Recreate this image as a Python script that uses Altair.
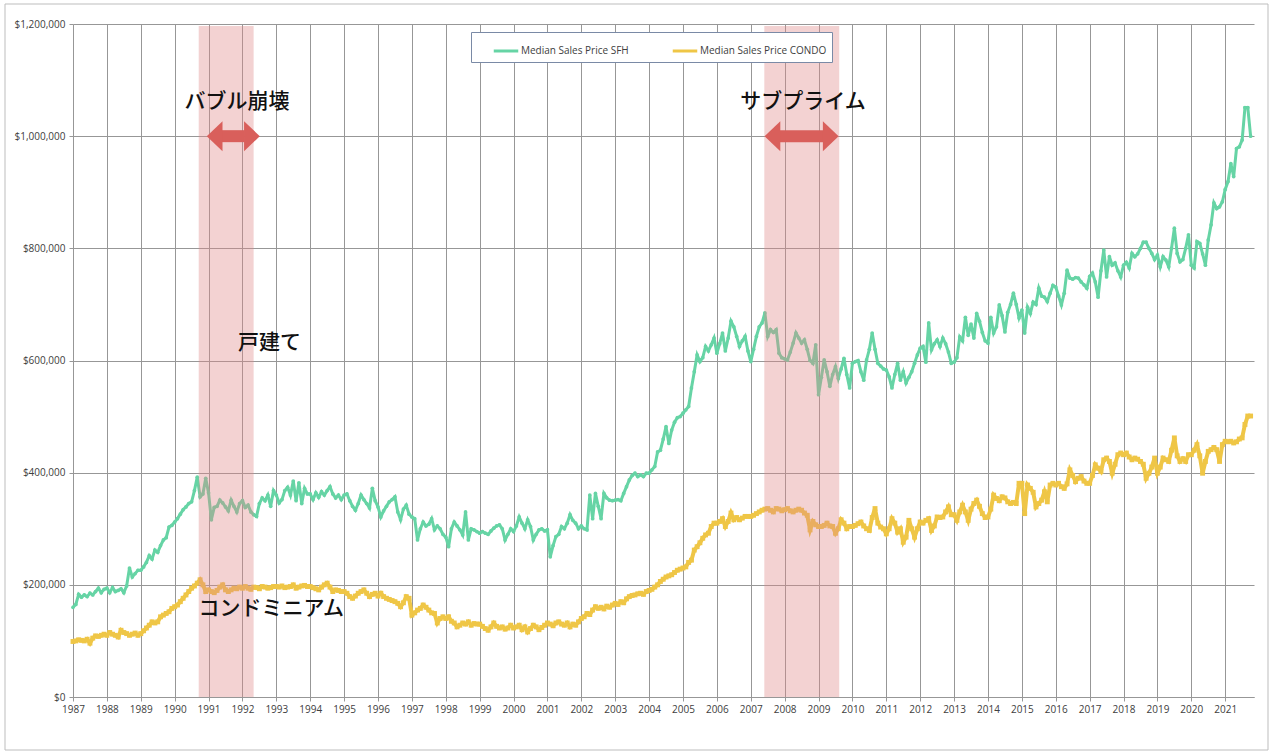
import altair as alt
import pandas as pd

# ---------------- data (thousands of USD, monthly) ----------------
series_names = ["Median Sales Price SFH", "Median Sales Price CONDO"]
series_colors = ["#66D4A5", "#EFC646"]

sfh = {
    1987: [160, 165, 183, 178, 182, 179, 185, 182, 188, 194, 186, 192],
    1988: [194, 186, 195, 188, 190, 193, 186, 198, 230, 214, 220, 226],
    1989: [226, 232, 240, 252, 246, 262, 258, 270, 280, 284, 303, 306],
    1990: [312, 318, 326, 334, 339, 345, 348, 368, 392, 357, 362, 390],
    1991: [364, 316, 338, 340, 351, 346, 339, 332, 351, 340, 330, 345],
    1992: [350, 338, 342, 330, 325, 322, 345, 355, 350, 360, 340, 368],
    1993: [360, 346, 352, 368, 374, 360, 385, 350, 382, 345, 372, 362],
    1994: [362, 352, 364, 356, 366, 360, 368, 375, 362, 355, 360, 352],
    1995: [360, 362, 350, 340, 333, 345, 360, 352, 345, 337, 372, 350],
    1996: [339, 321, 332, 340, 348, 352, 357, 330, 316, 335, 342, 326],
    1997: [321, 318, 280, 300, 312, 305, 308, 318, 298, 305, 300, 290],
    1998: [285, 268, 300, 312, 305, 298, 289, 330, 280, 300, 298, 295],
    1999: [292, 295, 292, 290, 296, 301, 305, 307, 300, 280, 290, 300],
    2000: [295, 305, 321, 310, 300, 316, 304, 280, 290, 298, 300, 296],
    2001: [298, 250, 270, 286, 290, 304, 300, 310, 325, 315, 310, 300],
    2002: [305, 300, 298, 360, 318, 363, 340, 318, 363, 355, 351, 350],
    2003: [351, 352, 350, 363, 375, 387, 395, 399, 393, 396, 393, 399],
    2004: [399, 405, 411, 437, 440, 460, 482, 452, 476, 490, 498, 500],
    2005: [506, 512, 518, 551, 580, 610, 598, 605, 625, 617, 628, 640],
    2006: [613, 630, 649, 617, 640, 670, 660, 643, 625, 635, 643, 617],
    2007: [598, 620, 643, 660, 667, 685, 643, 655, 650, 655, 613, 605],
    2008: [603, 601, 615, 631, 649, 640, 631, 637, 620, 600, 595, 628],
    2009: [539, 570, 601, 580, 554, 575, 589, 568, 585, 604, 575, 551],
    2010: [595, 598, 600, 580, 565, 601, 620, 649, 620, 595, 590, 585],
    2011: [583, 571, 551, 575, 595, 565, 580, 560, 570, 580, 595, 610],
    2012: [622, 625, 597, 667, 619, 630, 637, 625, 640, 630, 615, 595],
    2013: [597, 605, 642, 635, 677, 645, 665, 640, 684, 670, 650, 635],
    2014: [631, 677, 649, 660, 699, 680, 651, 686, 700, 720, 700, 676],
    2015: [690, 649, 695, 684, 704, 700, 729, 715, 713, 705, 720, 734],
    2016: [731, 715, 699, 720, 761, 747, 745, 748, 747, 740, 735, 729],
    2017: [750, 756, 740, 713, 760, 797, 749, 785, 770, 774, 760, 749],
    2018: [770, 775, 765, 791, 785, 790, 800, 811, 811, 800, 791, 780],
    2019: [788, 767, 785, 779, 767, 800, 836, 791, 776, 780, 800, 824],
    2020: [770, 765, 812, 809, 790, 770, 815, 842, 881, 871, 874, 883],
    2021: [905, 919, 951, 928, 978, 981, 993, 1051, 1051, 1000],
}

condo = {
    1987: [99, 100, 102, 101, 100, 103, 96, 105, 109, 108, 110, 112],
    1988: [110, 115, 112, 110, 107, 119, 115, 113, 110, 112, 114, 110],
    1989: [113, 118, 123, 128, 134, 132, 134, 143, 146, 149, 152, 158],
    1990: [161, 164, 170, 176, 182, 188, 194, 198, 203, 209, 200, 188],
    1991: [191, 188, 186, 190, 196, 200, 191, 188, 191, 194, 193, 196],
    1992: [194, 197, 194, 192, 196, 195, 193, 197, 196, 194, 195, 197],
    1993: [197, 196, 198, 195, 196, 197, 200, 194, 196, 198, 199, 197],
    1994: [197, 195, 193, 191, 196, 200, 203, 196, 188, 191, 190, 188],
    1995: [188, 185, 179, 176, 180, 185, 188, 191, 185, 179, 183, 185],
    1996: [180, 185, 179, 176, 174, 172, 170, 167, 161, 168, 179, 176],
    1997: [146, 150, 155, 158, 164, 160, 155, 150, 149, 132, 140, 143],
    1998: [140, 143, 135, 132, 125, 128, 132, 130, 134, 128, 131, 130],
    1999: [130, 126, 122, 119, 125, 132, 126, 123, 125, 121, 123, 128],
    2000: [123, 125, 128, 120, 125, 116, 122, 128, 125, 120, 124, 128],
    2001: [132, 130, 127, 132, 134, 130, 128, 132, 125, 130, 128, 134],
    2002: [140, 143, 149, 147, 155, 161, 158, 160, 157, 162, 160, 164],
    2003: [167, 165, 170, 168, 175, 179, 181, 182, 184, 185, 183, 188],
    2004: [190, 192, 196, 200, 206, 210, 214, 216, 218, 222, 226, 228],
    2005: [230, 232, 240, 244, 262, 268, 275, 283, 289, 292, 304, 310],
    2006: [310, 313, 318, 304, 313, 328, 316, 320, 316, 319, 322, 322],
    2007: [322, 324, 327, 330, 333, 335, 336, 333, 330, 336, 335, 332],
    2008: [334, 336, 332, 330, 333, 335, 333, 328, 324, 298, 313, 307],
    2009: [304, 304, 306, 310, 305, 304, 292, 300, 316, 310, 300, 304],
    2010: [304, 306, 309, 312, 305, 300, 297, 320, 336, 310, 303, 300],
    2011: [291, 300, 318, 310, 294, 300, 276, 285, 315, 300, 285, 300],
    2012: [312, 310, 315, 318, 297, 305, 321, 320, 321, 330, 339, 325],
    2013: [325, 315, 330, 342, 330, 315, 335, 345, 351, 340, 327, 320],
    2014: [321, 335, 360, 354, 350, 357, 355, 348, 345, 347, 345, 381],
    2015: [381, 327, 378, 372, 365, 339, 345, 351, 366, 348, 378, 381],
    2016: [378, 381, 375, 372, 380, 405, 395, 384, 390, 393, 385, 381],
    2017: [381, 395, 414, 408, 402, 423, 426, 420, 399, 415, 432, 435],
    2018: [432, 435, 428, 423, 426, 424, 420, 415, 390, 399, 410, 426],
    2019: [399, 410, 426, 423, 420, 440, 462, 430, 420, 425, 420, 432],
    2020: [432, 440, 450, 430, 399, 420, 438, 441, 445, 441, 420, 450],
    2021: [456, 455, 456, 453, 455, 460, 462, 486, 501, 501],
}

year_ticks = list(range(1987, 2022))
price_ticks = [0, 200000, 400000, 600000, 800000, 1000000, 1200000]

# shaded crisis periods (fractional years)
shade_start = [1990.71, 2007.40]
shade_end = [1992.33, 2009.61]

# double arrows at the $1,000,000 level
arrow_level = [1000000, 1000000]
arrow_base_left = [1991.39, 2007.85]
arrow_base_right = [1992.07, 2009.15]

# annotation texts
label_text = ["バブル崩壊", "サブプライム", "戸建て", "コンドミニアム"]
label_x = [1991.84, 2008.54, 1992.80, 1992.85]
label_y = [1061000, 1061000, 631000, 157000]

# ---------------- tables ----------------
rows = []
for name, d in zip(series_names, [sfh, condo]):
    for yr, vals in d.items():
        for m, v in enumerate(vals):
            rows.append({"t": yr + m / 12.0, "price": v * 1000, "series": name})
df = pd.DataFrame(rows)

shade_df = pd.DataFrame({"x1": shade_start, "x2": shade_end})
shaft_df = pd.DataFrame({"x1": arrow_base_left, "x2": arrow_base_right, "y": arrow_level})
head_l_df = pd.DataFrame({"x": arrow_base_left, "y": arrow_level})
head_r_df = pd.DataFrame({"x": arrow_base_right, "y": arrow_level})
label_df = pd.DataFrame({"x": label_x, "y": label_y, "text": label_text})

xscale = alt.Scale(domain=[1987, 2021.85], nice=False, zero=False)
yscale = alt.Scale(domain=[0, 1200000], nice=False)

AXIS_FONT = "Open Sans"
GRID = "#979797"

x_axis = alt.Axis(values=year_ticks, format="d", labelFont=AXIS_FONT, labelFontSize=10,
                  labelColor="#404040", tickColor=GRID, tickSize=4, domainColor=GRID,
                  gridColor=GRID, gridWidth=1, grid=True, title=None, labelPadding=3,
                  labelOverlap=False, labelFlush=False, tickCount=35)
y_axis = alt.Axis(values=price_ticks, format="$,.0f", labelFont=AXIS_FONT, labelFontSize=10,
                  labelColor="#404040", tickColor=GRID, tickSize=4, domain=False,
                  gridColor=GRID, gridWidth=1, grid=True, title=None, labelPadding=4)


def X(field):
    return alt.X(field, scale=xscale, axis=x_axis, title=None)


def Y(field):
    return alt.Y(field, scale=yscale, axis=y_axis, title=None)


color = alt.Color("series:N",
                  scale=alt.Scale(domain=series_names, range=series_colors),
                  legend=alt.Legend(orient="none", legendX=398, legendY=8, direction="horizontal",
                                    title=None, symbolType="stroke", symbolStrokeWidth=3,
                                    symbolSize=600, labelFont=AXIS_FONT, labelFontSize=10,
                                    labelColor="#404040", strokeColor="#7A8AA6", padding=5,
                                    columnPadding=26, fillColor="white", labelOffset=1,
                                    symbolOffset=16))

frame = alt.Chart(pd.DataFrame({"a": [0]})).mark_rect(
    fillOpacity=0, stroke="#BDBDBD", strokeWidth=1
).encode(x=alt.value(-68), x2=alt.value(1195), y=alt.value(-20), y2=alt.value(726))

sfh_line = alt.Chart(df[df.series == series_names[0]]).mark_line(
    strokeWidth=3, point=alt.OverlayMarkDef(shape="circle", size=14, filled=True)
).encode(x=X("t:Q"), y=Y("price:Q"), color=color)

condo_line = alt.Chart(df[df.series == series_names[1]]).mark_line(
    strokeWidth=4, point=alt.OverlayMarkDef(shape="square", size=24, filled=True)
).encode(x=X("t:Q"), y=Y("price:Q"), color=color)

shade = alt.Chart(shade_df).mark_rect(color="#E08A8A", opacity=0.38).encode(
    x=X("x1:Q"), x2="x2:Q",
    y=alt.value(2), y2=alt.value(673),
)

arrow_color = "#D95F5B"
shaft = alt.Chart(shaft_df).mark_rule(color=arrow_color, strokeWidth=12, strokeCap="butt").encode(
    x=X("x1:Q"), x2="x2:Q", y=Y("y:Q"),
)
head_l = alt.Chart(head_l_df).mark_point(
    shape="M 0.05 -1 L 0.05 1 L -1 0 Z", size=900, filled=True, color=arrow_color, opacity=1
).encode(x=X("x:Q"), y=Y("y:Q"))
head_r = alt.Chart(head_r_df).mark_point(
    shape="M -0.05 -1 L -0.05 1 L 1 0 Z", size=900, filled=True, color=arrow_color, opacity=1
).encode(x=X("x:Q"), y=Y("y:Q"))

labels = alt.Chart(label_df).mark_text(
    font="Noto Sans CJK JP", fontSize=21, fontWeight=500, color="#111111",
    align="center", baseline="middle"
).encode(x=X("x:Q"), y=Y("y:Q"), text="text:N")

chart = alt.layer(
    sfh_line, condo_line, shade, shaft, head_l, head_r, labels, frame
).properties(
    width=1181, height=673,
    padding={"left": 73, "top": 24, "right": 20, "bottom": 58},
    autosize=alt.AutoSizeParams(type="none"),
    background="white",
).configure_view(strokeWidth=0)

chart.save("out.html", embed_options={"renderer": "svg", "actions": False})
